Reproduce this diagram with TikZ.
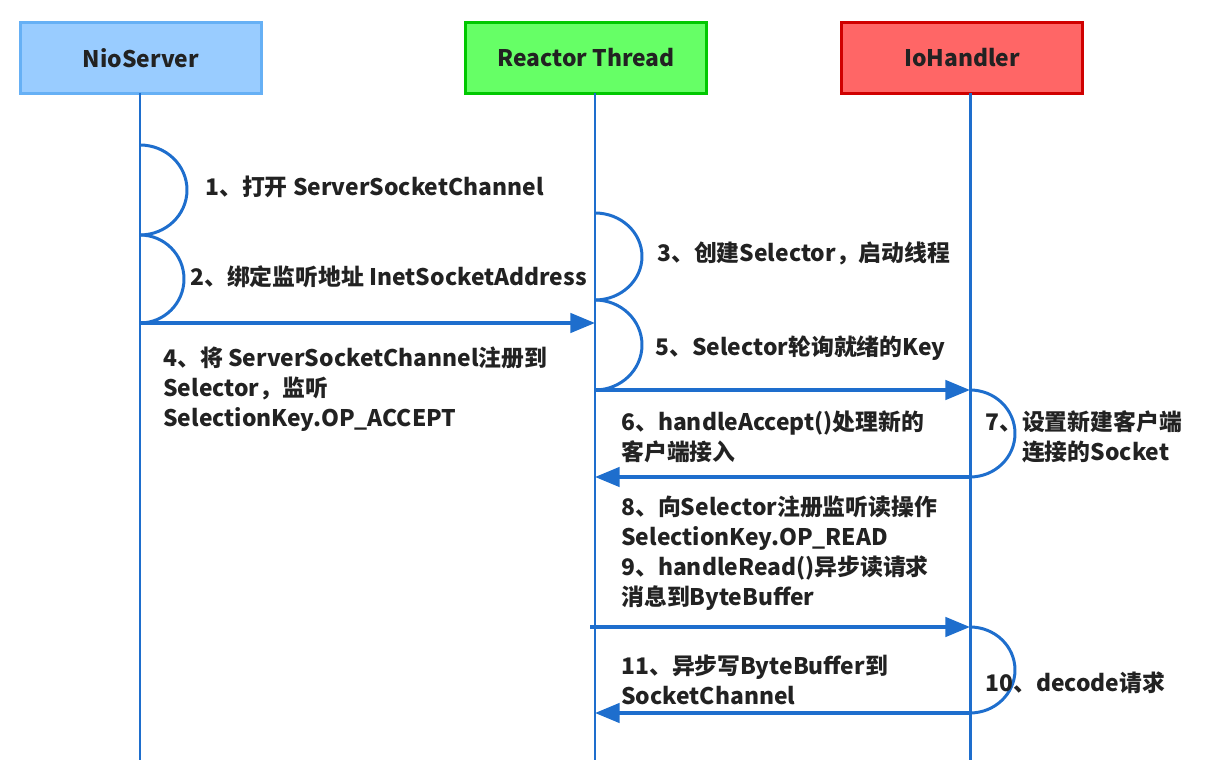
\documentclass[tikz,border=0pt]{standalone}
\usepackage{fontspec}
\setmainfont{Noto Sans CJK SC}
\usetikzlibrary{arrows.meta}
\definecolor{lineblue}{HTML}{1E6ECD}
\definecolor{niofill}{HTML}{99CCFF}
\definecolor{nioedge}{HTML}{66B0F5}
\definecolor{reactorfill}{HTML}{66FF66}
\definecolor{reactoredge}{HTML}{00C800}
\definecolor{handlerfill}{HTML}{FF6666}
\definecolor{handleredge}{HTML}{D00000}
\definecolor{textgray}{HTML}{222222}
\tikzset{
  head/.style={draw, line width=1.8pt, minimum width=4.82cm, minimum height=1.42cm,
    font=\fontsize{13}{17}\selectfont\bfseries, text=textgray},
  lbl/.style={anchor=west, inner sep=0pt, align=left,
    font=\fontsize{13}{17}\selectfont\bfseries, text=textgray},
  life/.style={draw=lineblue, line width=1.7pt},
  msg/.style={draw=lineblue, line width=2pt, -{Triangle[length=14pt,width=11pt]}}
}
\begin{document}
\begin{tikzpicture}[x=0.02cm, y=-0.02cm]
  \useasboundingbox (0,0) rectangle (1231,776);
  % participants
  \node[head, fill=niofill, draw=nioedge] (nio) at (141,58) {NioServer};
  \node[head, fill=reactorfill, draw=reactoredge] (reactor) at (586,58) {Reactor Thread};
  \node[head, fill=handlerfill, draw=handleredge] (handler) at (962,58) {IoHandler};
  % lifelines
  \coordinate (niotop) at (140,93);
  \coordinate (nioend) at (140,760);
  \coordinate (reactortop) at (595,93);
  \coordinate (reactorend) at (595,760);
  \coordinate (handlertop) at (970,93);
  \coordinate (handlerend) at (970,760);
  \draw[life] (niotop) -- (nioend);
  \draw[life] (reactortop) -- (reactorend);
  \draw[life] (handlertop) -- (handlerend);
  % self calls
  \coordinate (s1) at (140,145);
  \coordinate (s2) at (140,235);
  \coordinate (s3) at (595,213);
  \coordinate (s5) at (595,300);
  \coordinate (s7) at (970,390);
  \coordinate (s10) at (970,627);
  \draw[life] (s1) arc[start angle=90, end angle=-90, x radius=0.94cm, y radius=0.9cm];
  \draw[life] (s2) arc[start angle=90, end angle=-90, x radius=0.88cm, y radius=0.88cm];
  \draw[life] (s3) arc[start angle=90, end angle=-90, x radius=0.94cm, y radius=0.87cm];
  \draw[life] (s5) arc[start angle=90, end angle=-90, x radius=0.94cm, y radius=0.9cm];
  \draw[life] (s7) arc[start angle=90, end angle=-90, x radius=0.9cm, y radius=0.87cm];
  \draw[life] (s10) arc[start angle=90, end angle=-90, x radius=0.9cm, y radius=0.86cm];
  % messages
  \coordinate (m4a) at (140,323);
  \coordinate (m4b) at (595,323);
  \coordinate (m6a) at (595,390);
  \coordinate (m6b) at (970,390);
  \coordinate (m7a) at (970,477);
  \coordinate (m7b) at (595,477);
  \coordinate (m9a) at (590,627);
  \coordinate (m9b) at (970,627);
  \coordinate (m11a) at (970,713);
  \coordinate (m11b) at (595,713);
  \draw[msg] (m4a) -- (m4b);
  \draw[msg] (m6a) -- (m6b);
  \draw[msg] (m7a) -- (m7b);
  \draw[msg] (m9a) -- (m9b);
  \draw[msg] (m11a) -- (m11b);
  % labels
  \node[lbl] (l1) at (205,187) {1、打开 ServerSocketChannel};
  \node[lbl] (l2) at (190,277) {2、绑定监听地址 InetSocketAddress};
  \node[lbl] (l3) at (657,253) {3、创建Selector，启动线程};
  \node[lbl] (l4) at (163,389) {4、将 ServerSocketChannel注册到\\Selector，监听\\SelectionKey.OP\_ACCEPT};
  \node[lbl] (l5) at (655,348) {5、Selector轮询就绪的Key};
  \node[lbl] (l6) at (621,437) {6、handleAccept()处理新的\\客户端接入};
  \node[lbl] (l7) at (985,437) {7、设置新建客户端\\\hphantom{7、}连接的Socket};
  \node[lbl] (l8) at (621,553) {8、向Selector注册监听读操作\\SelectionKey.OP\_READ\\9、handleRead()异步读请求\\消息到ByteBuffer};
  \node[lbl] (l10) at (985,683) {10、decode请求};
  \node[lbl] (l11) at (621,680) {11、异步写ByteBuffer到\\SocketChannel};
\end{tikzpicture}
\end{document}
